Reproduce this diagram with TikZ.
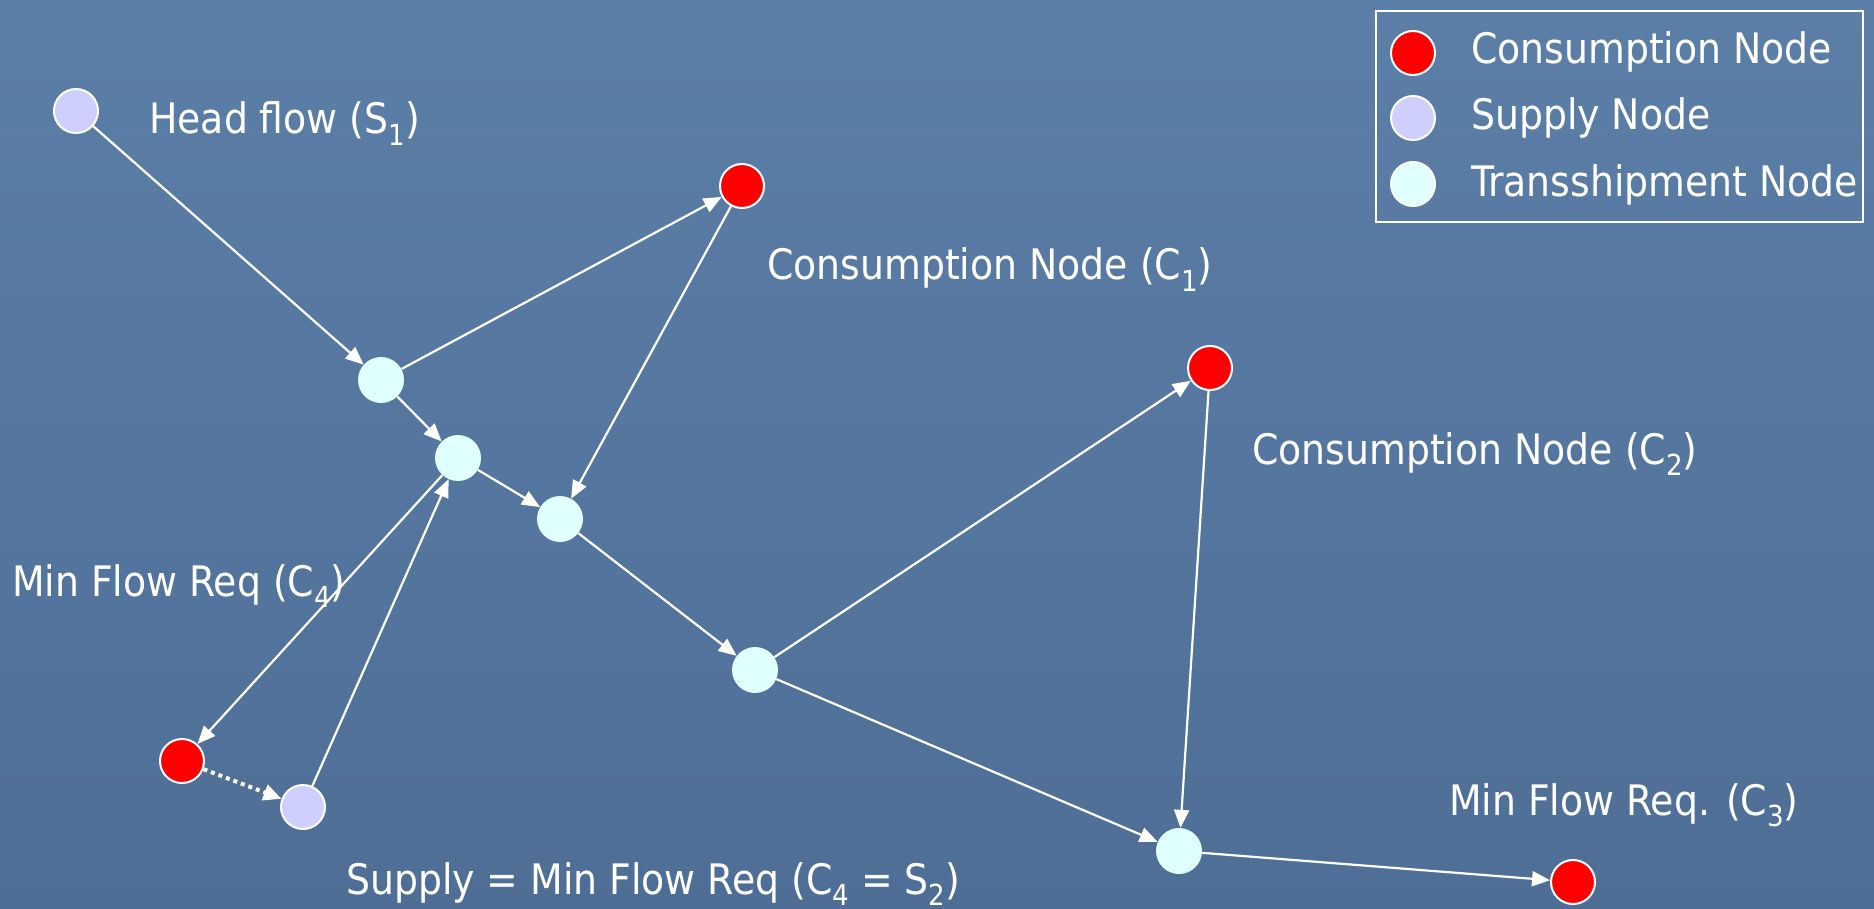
\documentclass[tikz,border=0pt]{standalone}
\usepackage{fontspec}
\setmainfont{DejaVu Sans Condensed}
\usetikzlibrary{arrows.meta}
\definecolor{bgtop}{RGB}{92,127,167}
\definecolor{bgbot}{RGB}{78,110,150}
\definecolor{cons}{RGB}{255,0,0}
\definecolor{supp}{RGB}{206,206,255}
\definecolor{trans}{RGB}{224,255,255}
\newcommand{\myidx}[1]{\raisebox{-0.27em}{\fontsize{29}{29}\selectfont #1}}
\begin{document}
\begin{tikzpicture}[x=1pt,y=-1pt,
  cnode/.style={circle,minimum size=44pt,inner sep=0pt,draw=white,line width=2pt,fill=cons},
  snode/.style={circle,minimum size=44pt,inner sep=0pt,draw=white,line width=2pt,fill=supp},
  tnode/.style={circle,minimum size=46pt,inner sep=0pt,fill=trans},
  lnode/.style={circle,minimum size=44pt,inner sep=0pt,draw=white,line width=2pt},
  lbl/.style={text=white,font=\fontsize{42}{50}\selectfont,anchor=base west,inner sep=0pt},
  flow/.style={draw=white,line width=2.2pt,-{Triangle[length=18pt,width=15pt]}},
  dotflow/.style={draw=white,line width=4pt,dash pattern=on 4pt off 4pt,-{Triangle[length=18pt,width=16pt]}},
]
\shade[top color=bgtop,bottom color=bgbot] (0,0) rectangle (1874,909);
\useasboundingbox (0,0) rectangle (1874,909);

% legend
\node (legend) [draw=white,line width=2pt,minimum width=487pt,minimum height=211pt,anchor=north west,inner sep=0pt] at (1375,10) {};
\node (lc) [lnode,fill=cons] at (1413,53) {};
\node (ls) [lnode,fill=supp] at (1413,118) {};
\node (lt) [lnode,fill=trans] at (1413,184) {};
\node (lct) [lbl] at (1471,64) {Consumption Node};
\node (lst) [lbl] at (1471,130) {Supply Node};
\node (ltt) [lbl] at (1471,197) {Transshipment Node};

% nodes
\node (s1) [snode] at (76,111) {};
\node (c1) [cnode] at (742,186) {};
\node (t1) [tnode] at (381,380) {};
\node (t2) [tnode] at (458,458) {};
\node (t3) [tnode] at (560,519) {};
\node (t4) [tnode] at (755,670) {};
\node (c2) [cnode] at (1210,368) {};
\node (t5) [tnode] at (1179,851) {};
\node (c3) [cnode] at (1573,882) {};
\node (c4) [cnode] at (182,761) {};
\node (s2) [snode] at (303,807) {};

% labels
\node (ls1) [lbl] at (149,134) {Head flow (S\myidx{1})};
\node (lc1) [lbl] at (767,280) {Consumption Node (C\myidx{1})};
\node (lc2) [lbl] at (1252,464) {Consumption Node (C\myidx{2})};
\node (lc4) [lbl] at (12,596) {Min Flow Req (C\myidx{4})};
\node (lc3) [lbl] at (1449,815) {Min Flow Req. (C\myidx{3})};
\node (lcs) [lbl] at (346,894) {Supply = Min Flow Req (C\myidx{4} = S\myidx{2})};

% connectors
\draw[flow] (s1) -- (t1);
\draw[flow] (t1) -- (c1);
\draw[flow] (c1) -- (t3);
\draw[flow] (t1) -- (t2);
\draw[flow] (t2) -- (t3);
\draw[flow] (t2) -- (c4);
\draw[flow] (s2) -- (t2);
\draw[dotflow] (c4) -- (s2);
\draw[flow] (t3) -- (t4);
\draw[flow] (t4) -- (c2);
\draw[flow] (c2) -- (t5);
\draw[flow] (t4) -- (t5);
\draw[flow] (t5) -- (c3);
\end{tikzpicture}
\end{document}
